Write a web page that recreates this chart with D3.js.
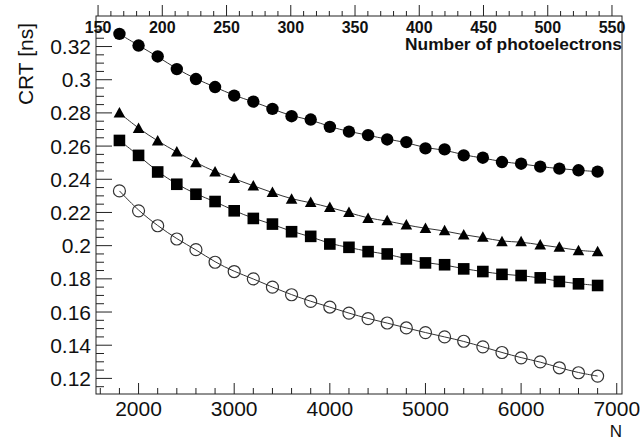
<!DOCTYPE html>
<html><head><meta charset="utf-8">
<script src="https://cdn.jsdelivr.net/npm/d3@7"></script>
<style>
html,body{margin:0;padding:0;background:#fff;}
svg{display:block;font-family:"Liberation Sans",Arial,Helvetica,sans-serif;}
</style></head>
<body><svg id="c" width="642" height="441"></svg>
<script>
const nValues = [1800,2000,2200,2400,2600,2800,3000,3200,3400,3600,3800,4000,4200,4400,4600,4800,5000,5200,5400,5600,5800,6000,6200,6400,6600,6800];
const filledCircles = [0.3276,0.3206,0.3140,0.3064,0.3004,0.2956,0.2904,0.2868,0.2824,0.2780,0.2760,0.2716,0.2687,0.2666,0.2640,0.2624,0.2586,0.2580,0.2544,0.2530,0.2504,0.2494,0.2476,0.2464,0.2454,0.2446];
const triangles = [0.2800,0.2706,0.2630,0.2564,0.2500,0.2444,0.2404,0.2360,0.2320,0.2280,0.2260,0.2230,0.2200,0.2164,0.2150,0.2124,0.2104,0.2090,0.2064,0.2050,0.2024,0.2024,0.2004,0.1990,0.1970,0.1964];
const squares = [0.2634,0.2544,0.2444,0.2370,0.2310,0.2266,0.2210,0.2164,0.2130,0.2084,0.2056,0.2010,0.1990,0.1964,0.1950,0.1920,0.1896,0.1885,0.1860,0.1844,0.1827,0.1820,0.1806,0.1784,0.1770,0.1760];
const openCircles = [0.2330,0.2210,0.2120,0.2040,0.1976,0.1900,0.1844,0.1800,0.1750,0.1704,0.1664,0.1630,0.1593,0.1560,0.1534,0.1504,0.1476,0.1450,0.1424,0.1390,0.1356,0.1324,0.1300,0.1264,0.1234,0.1214];
const xTicks = [2000,3000,4000,5000,6000,7000];
const yTicks = [0.12,0.14,0.16,0.18,0.2,0.22,0.24,0.26,0.28,0.3,0.32];
const topTicks = [150,200,250,300,350,400,450,500,550];

const L=96,R=622,T=16,B=394;
const svg=d3.select("#c");
const x=d3.scaleLinear().domain([1555,7055]).range([L,R]);
const y=d3.scaleLinear().domain([0.1106,0.3384]).range([B,T]);
const xt=d3.scaleLinear().domain([148.4,557.8]).range([L,R]);
const axisCol="#222";

// frame
svg.append("rect").attr("x",L).attr("y",T).attr("width",R-L).attr("height",B-T)
  .attr("fill","none").attr("stroke",axisCol).attr("stroke-width",1);

// bottom axis ticks (inside)
const xMinor=d3.range(1600,7001,200);
const gb=svg.append("g");
xMinor.forEach(v=>{
  const major = v%1000===0;
  gb.append("line").attr("x1",x(v)).attr("x2",x(v)).attr("y1",B).attr("y2",B-(major?11:6))
    .attr("stroke",axisCol).attr("stroke-width",1);
});
xTicks.forEach(v=>{
  gb.append("text").attr("x",x(v)).attr("y",416).attr("text-anchor","middle")
    .attr("font-size",21).attr("fill","#111").text(v);
});
svg.append("text").attr("x",622).attr("y",437).attr("text-anchor","end")
  .attr("font-size",17).attr("fill","#111").text("N");

// left axis
const yMinor=d3.range(0.115,0.3381,0.005);
const gl=svg.append("g");
yMinor.forEach(v=>{
  const major = Math.abs(Math.round(v*50)-v*50)<1e-6;
  gl.append("line").attr("x1",L).attr("x2",L+(major?16:8)).attr("y1",y(v)).attr("y2",y(v))
    .attr("stroke",axisCol).attr("stroke-width",1);
});
yTicks.forEach(v=>{
  gl.append("text").attr("x",91).attr("y",y(v)).attr("dy","0.36em").attr("text-anchor","end")
    .attr("font-size",21).attr("fill","#111").text(d3.format("")(v));
});
svg.append("text").attr("transform","translate(33,23) rotate(-90)").attr("text-anchor","end")
  .attr("font-size",21).attr("fill","#111").text("CRT [ns]");

// top axis (ticks outward, labels inside)
const tMinor=d3.range(150,551,10);
const gt=svg.append("g");
tMinor.forEach(v=>{
  const major = v%50===0;
  gt.append("line").attr("x1",xt(v)).attr("x2",xt(v)).attr("y1",T).attr("y2",T-(major?11:5))
    .attr("stroke",axisCol).attr("stroke-width",1);
});
topTicks.forEach(v=>{
  gt.append("text").attr("x",xt(v)).attr("y",33).attr("text-anchor","middle")
    .attr("font-size",16).attr("font-weight","bold").attr("fill","#111").text(v);
});
svg.append("text").attr("x",622).attr("y",50).attr("text-anchor","end")
  .attr("font-size",16).attr("font-weight","bold").attr("fill","#111")
  .attr("textLength",217).attr("lengthAdjust","spacingAndGlyphs").text("Number of photoelectrons");

// series
const series=[
  {vals:filledCircles,type:"circle"},
  {vals:triangles,type:"triangle"},
  {vals:squares,type:"square"},
  {vals:openCircles,type:"open"}
];
const line=d3.line().x((d,i)=>x(nValues[i])).y(d=>y(d)).curve(d3.curveBasis);
series.forEach(s=>{
  svg.append("path").attr("d",line(s.vals)).attr("fill","none").attr("stroke","#333").attr("stroke-width",1);
});
series.forEach(s=>{
  const g=svg.append("g");
  s.vals.forEach((v,i)=>{
    const cx=x(nValues[i]), cy=y(v);
    if(s.type==="circle"){
      g.append("circle").attr("cx",cx).attr("cy",cy).attr("r",6.2).attr("fill","#000");
    } else if(s.type==="open"){
      g.append("circle").attr("cx",cx).attr("cy",cy).attr("r",6).attr("fill","none").attr("stroke","#333").attr("stroke-width",1.2);
    } else if(s.type==="square"){
      g.append("rect").attr("x",cx-5.8).attr("y",cy-5.8).attr("width",11.6).attr("height",11.6).attr("fill","#000");
    } else {
      g.append("path").attr("d",`M${cx},${cy-6}L${cx+5.8},${cy+4.5}L${cx-5.8},${cy+4.5}Z`).attr("fill","#000");
    }
  });
});
</script></body></html>
